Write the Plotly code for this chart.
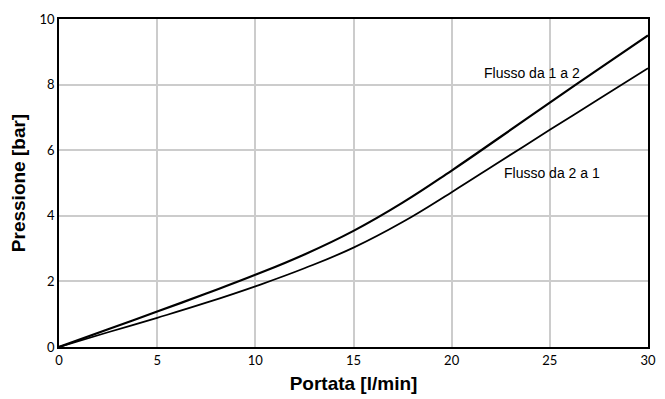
import plotly.graph_objects as go

# flow rate [l/min]
portata = [0, 2.5, 5, 7.5, 10, 12.5, 15, 17.5, 20, 22.5, 25, 27.5, 30]
# pressure [bar]
flusso_1_2 = [0, 0.54, 1.08, 1.63, 2.2, 2.82, 3.54, 4.4, 5.38, 6.41, 7.45, 8.48, 9.5]
flusso_2_1 = [0, 0.45, 0.89, 1.35, 1.85, 2.4, 3.03, 3.81, 4.72, 5.67, 6.62, 7.56, 8.5]

x_ticks = [0, 5, 10, 15, 20, 25, 30]
y_ticks = [0, 2, 4, 6, 8, 10]

fig = go.Figure()

fig.add_trace(go.Scatter(
    x=portata, y=flusso_1_2, mode='lines', name='Flusso da 1 a 2',
    line=dict(color='black', width=2.2, shape='spline', smoothing=1.3)
))
fig.add_trace(go.Scatter(
    x=portata, y=flusso_2_1, mode='lines', name='Flusso da 2 a 1',
    line=dict(color='black', width=1.8, shape='spline', smoothing=1.3)
))

fig.add_annotation(x=24.1, y=8.35, text='Flusso da 1 a 2', showarrow=False,
                   font=dict(family='Liberation Sans', size=14, color='black'))
fig.add_annotation(x=25.1, y=5.3, text='Flusso da 2 a 1', showarrow=False,
                   font=dict(family='Liberation Sans', size=14, color='black'))

# page body adds an 8px offset, margins compensate for it
fig.update_layout(
    width=665, height=399,
    margin=dict(l=51, r=25, t=11, b=60),
    plot_bgcolor='white', paper_bgcolor='white',
    showlegend=False,
    font=dict(family='Lato', size=13, color='black'),
)
fig.update_xaxes(
    range=[0, 30], tickvals=x_ticks, showgrid=True, gridcolor='#cccccc', gridwidth=1.5,
    showline=True, linecolor='black', linewidth=2, mirror=True, zeroline=False,
    ticks='', ticklen=0, automargin=False,
    title=dict(text='Portata [l/min]', standoff=10,
               font=dict(family='Liberation Sans', size=19, color='black', weight='bold')),
)
fig.update_yaxes(
    range=[0, 10], tickvals=y_ticks, showgrid=True, gridcolor='#cccccc', gridwidth=1.5,
    showline=True, linecolor='black', linewidth=1.5, mirror=True, zeroline=False,
    ticks='', ticklen=0, automargin=False,
    title=dict(text='Pressione [bar]', standoff=10,
               font=dict(family='Liberation Sans', size=19, color='black', weight='bold')),
)

fig.write_html("out.html")
